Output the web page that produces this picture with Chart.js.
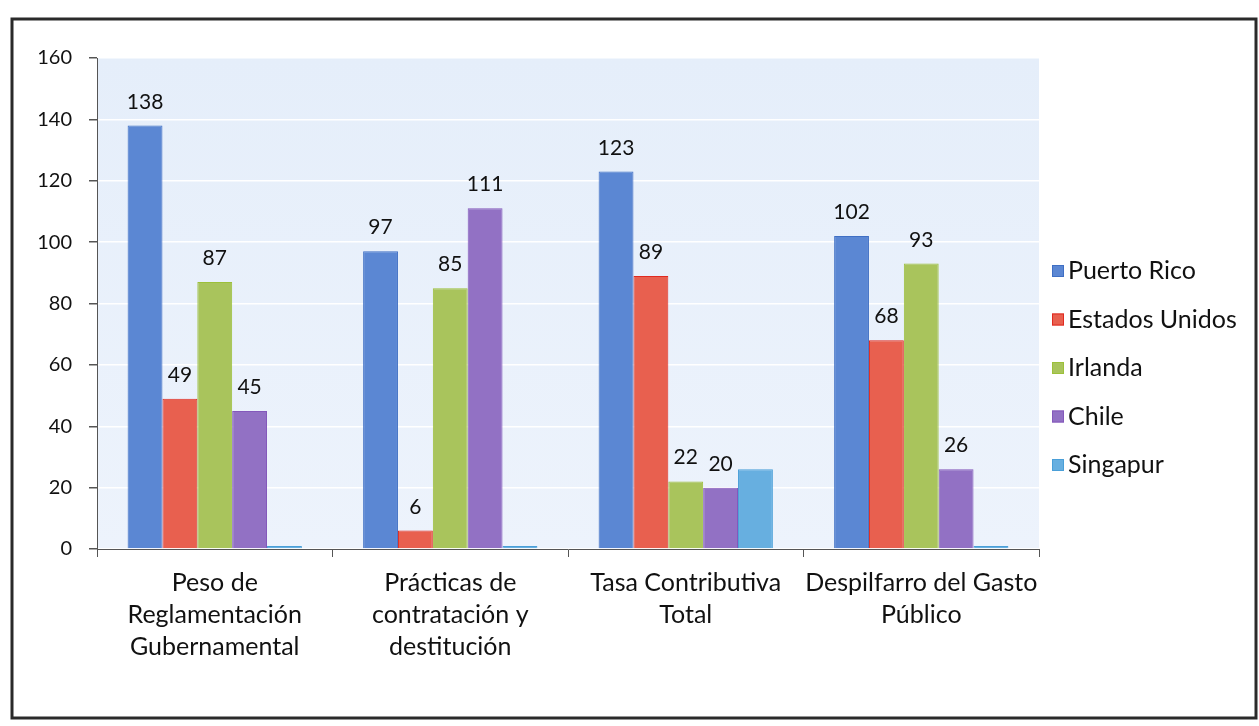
<!DOCTYPE html>
<html>
<head>
<meta charset="utf-8">
<script src="https://cdn.jsdelivr.net/npm/chart.js@4"></script>
<style>
html,body{margin:0;padding:0;background:#fff;}
canvas{display:block;}
</style>
</head>
<body>
<canvas id="c" width="1259" height="726"></canvas>
<script>
// ---- data ----
const categories = [
  ["Peso de", "Reglamentación", "Gubernamental"],
  ["Prácticas de", "contratación y", "destitución"],
  ["Tasa Contributiva", "Total"],
  ["Despilfarro del Gasto", "Público"]
];
const seriesNames = ["Puerto Rico", "Estados Unidos", "Irlanda", "Chile", "Singapur"];
const puertoRico    = [138, 97, 123, 102];
const estadosUnidos = [49, 6, 89, 68];
const irlanda       = [87, 85, 22, 93];
const chile         = [45, 111, 20, 26];
const singapur      = [1, 1, 26, 1];
const labeledSeries = [true, true, true, true, false];
const yTicks = [0, 20, 40, 60, 80, 100, 120, 140, 160];

const fills   = ["#5b87d3", "#e8604f", "#a9c45c", "#9271c4", "#67afe0"];
const borders = ["#3f6fc4", "#e02a20", "#9cc03a", "#8458bb", "#4a9fd8"];
const FONT = "Lato, 'Open Sans', sans-serif";

const allSeries = [puertoRico, estadosUnidos, irlanda, chile, singapur];

const bgPlugin = {
  id: 'bg',
  beforeDraw(chart) {
    const {ctx, chartArea: a} = chart;
    ctx.save();
    ctx.fillStyle = '#fff';
    ctx.fillRect(0, 0, chart.width, chart.height);
    const g = ctx.createLinearGradient(0, a.top, 0, a.bottom);
    g.addColorStop(0, '#e5eefa');
    g.addColorStop(1, '#edf3fc');
    ctx.fillStyle = g;
    ctx.fillRect(a.left, a.top, a.right - a.left, a.bottom - a.top);
    ctx.restore();
  },
  afterDraw(chart) {
    const {ctx} = chart;
    ctx.save();
    // outer frame
    ctx.strokeStyle = '#2a2a2a';
    ctx.lineWidth = 3;
    ctx.strokeRect(12, 19, 1244, 699);
    // legend
    ctx.font = "25px " + FONT;
    ctx.textBaseline = 'middle';
    ctx.textAlign = 'left';
    chart.data.datasets.forEach((ds, i) => {
      const y = 271 + i * 48.5;
      ctx.fillStyle = ds.backgroundColor;
      ctx.fillRect(1052, y - 6, 12, 12);
      ctx.strokeStyle = ds.borderColor;
      ctx.lineWidth = 1;
      ctx.strokeRect(1052.5, y - 5.5, 11, 11);
      ctx.fillStyle = '#111';
      ctx.fillText(ds.label, 1068, y);
    });
    ctx.restore();
  },
  afterDatasetsDraw(chart) {
    const {ctx} = chart;
    ctx.save();
    ctx.font = "21px " + FONT;
    ctx.fillStyle = '#111';
    ctx.textAlign = 'center';
    ctx.textBaseline = 'alphabetic';
    chart.data.datasets.forEach((ds, i) => {
      if (!labeledSeries[i]) return;
      chart.getDatasetMeta(i).data.forEach((bar, j) => {
        ctx.fillText(String(ds.data[j]), bar.x, bar.y - 17);
      });
    });
    ctx.restore();
  }
};

new Chart(document.getElementById('c'), {
  type: 'bar',
  data: {
    labels: categories,
    datasets: seriesNames.map((name, i) => ({
      label: name,
      data: allSeries[i],
      backgroundColor: fills[i],
      borderColor: borders[i],
      borderWidth: 1,
      barPercentage: 1,
      categoryPercentage: 0.74
    }))
  },
  options: {
    responsive: false,
    animation: false,
    layout: { padding: { left: 0, top: 58, right: 220, bottom: 0 } },
    plugins: { legend: { display: false }, tooltip: { enabled: false } },
    scales: {
      x: {
        grid: { drawOnChartArea: false, drawTicks: true, tickLength: 8, color: '#555', tickColor: '#555', offset: true },
        border: { color: '#555', width: 1 },
        ticks: { color: '#111', font: { family: FONT, size: 25, lineHeight: 1.28 }, padding: 10, maxRotation: 0, autoSkip: false },
        afterFit(s) { s.height = 726 - 549; }
      },
      y: {
        min: 0, max: 160,
        afterBuildTicks(s) { s.ticks = yTicks.map(v => ({ value: v })); },
        grid: { color: '#ffffff', lineWidth: 1.5, tickColor: '#555', tickLength: 8 },
        border: { color: '#555', width: 1 },
        ticks: { color: '#111', font: { family: FONT, size: 20 }, padding: 17 },
        afterFit(s) { s.width = 97; }
      }
    }
  },
  plugins: [bgPlugin]
});
</script>
</body>
</html>
